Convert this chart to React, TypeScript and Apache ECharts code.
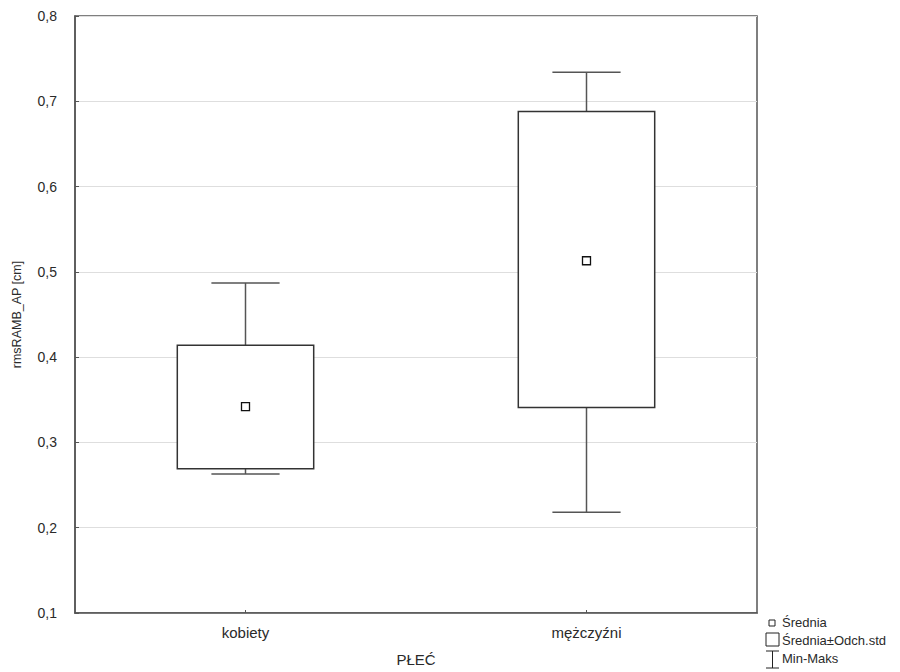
import React, { useEffect, useRef } from "react";
import * as echarts from "echarts";

const categories = ["kobiety", "mężczyźni"];
const minValues = [0.263, 0.218];
const boxLow = [0.269, 0.341];
const boxHigh = [0.414, 0.688];
const maxValues = [0.487, 0.734];
const means = [0.342, 0.513];
const yTicks = { min: 0.1, max: 0.8, interval: 0.1 };
const xAxisName = "PŁEĆ";
const yAxisName = "rmsRAMB_AP [cm]";
const legendLabels = ["Średnia", "Średnia±Odch.std", "Min-Maks"];

const FONT = "'Liberation Sans', Arial, sans-serif";
const TXT = "#2a2a2a";

export default function App() {
  const ref = useRef<HTMLDivElement>(null);
  useEffect(() => {
    if (!ref.current) return;
    const chart = echarts.init(ref.current, null, { renderer: "svg" });
    const data = categories.map((_, i) => [i, minValues[i], boxLow[i], boxHigh[i], maxValues[i], means[i]]);
    chart.setOption({
      animation: false,
      backgroundColor: "#fff",
      textStyle: { fontFamily: FONT },
      grid: {
        left: 75, right: 143, top: 16, bottom: 59,
        outerBoundsMode: "none",
        containLabel: false,
        show: true, borderColor: "#555", borderWidth: 1.5, backgroundColor: "transparent",
      },
      xAxis: {
        type: "category",
        data: categories,
        name: xAxisName,
        nameLocation: "middle",
        nameGap: 39,
        nameTextStyle: { fontSize: 15, color: TXT, fontFamily: FONT },
        axisLine: { show: true, lineStyle: { color: "#555", width: 1.5 } },
        axisTick: { show: true, inside: true, alignWithLabel: true, length: 3, lineStyle: { color: "#555" } },
        axisLabel: { fontSize: 15, color: TXT, margin: 12, fontFamily: FONT },
        splitLine: { show: false },
      },
      yAxis: {
        type: "value",
        min: yTicks.min,
        max: yTicks.max,
        interval: yTicks.interval,
        name: yAxisName,
        nameLocation: "middle",
        nameRotate: 90,
        nameGap: 52,
        nameTextStyle: { fontSize: 12.5, color: TXT, fontFamily: FONT },
        axisLine: { show: true, lineStyle: { color: "#555", width: 1.5 } },
        axisTick: { show: true, inside: true, length: 4, lineStyle: { color: "#555" } },
        axisLabel: {
          fontSize: 14,
          color: TXT,
          margin: 18,
          fontFamily: FONT,
          formatter: (v: number) => v.toFixed(1).replace(".", ","),
        },
        splitLine: { show: true, lineStyle: { color: "#dedede", width: 1 } },
      },
      series: [
        {
          type: "custom",
          data,
          encode: { x: 0, y: [1, 2, 3, 4, 5] },
          renderItem: (params: any, api: any) => {
            const idx = api.value(0);
            const band = api.size([1, 0])[0];
            const pMin = api.coord([idx, api.value(1)]);
            const pLow = api.coord([idx, api.value(2)]);
            const pHigh = api.coord([idx, api.value(3)]);
            const pMax = api.coord([idx, api.value(4)]);
            const pMean = api.coord([idx, api.value(5)]);
            const cx = pMin[0];
            const boxW = band * 0.4;
            const capW = band * 0.2;
            const wStyle = { stroke: "#555", lineWidth: 1.5 };
            return {
              type: "group",
              children: [
                { type: "line", shape: { x1: cx, y1: pMax[1], x2: cx, y2: pHigh[1] }, style: wStyle },
                { type: "line", shape: { x1: cx, y1: pLow[1], x2: cx, y2: pMin[1] }, style: wStyle },
                { type: "line", shape: { x1: cx - capW / 2, y1: pMax[1], x2: cx + capW / 2, y2: pMax[1] }, style: wStyle },
                { type: "line", shape: { x1: cx - capW / 2, y1: pMin[1], x2: cx + capW / 2, y2: pMin[1] }, style: wStyle },
                {
                  type: "rect",
                  shape: { x: cx - boxW / 2, y: pHigh[1], width: boxW, height: pLow[1] - pHigh[1] },
                  style: { fill: "#fff", stroke: "#333", lineWidth: 1.5 },
                },
                {
                  type: "rect",
                  shape: { x: cx - 4, y: pMean[1] - 4, width: 8, height: 8 },
                  style: { fill: "#fff", stroke: "#111", lineWidth: 1.3 },
                },
              ],
            };
          },
        },
      ],
      graphic: [
        { type: "rect", shape: { x: 769, y: 620, width: 6, height: 6 }, style: { fill: "#fff", stroke: "#222", lineWidth: 1 } },
        { type: "text", x: 782, y: 622, style: { text: legendLabels[0], fontSize: 13, fill: TXT, fontFamily: FONT, verticalAlign: "middle" } },
        { type: "rect", shape: { x: 766, y: 633, width: 13, height: 13 }, style: { fill: "#fff", stroke: "#222", lineWidth: 1 } },
        { type: "text", x: 782, y: 640, style: { text: legendLabels[1], fontSize: 13, fill: TXT, fontFamily: FONT, verticalAlign: "middle" } },
        { type: "line", shape: { x1: 766, y1: 651, x2: 779, y2: 651 }, style: { stroke: "#222", lineWidth: 1 } },
        { type: "line", shape: { x1: 772.5, y1: 651, x2: 772.5, y2: 668 }, style: { stroke: "#222", lineWidth: 1 } },
        { type: "line", shape: { x1: 766, y1: 668, x2: 779, y2: 668 }, style: { stroke: "#222", lineWidth: 1 } },
        { type: "text", x: 782, y: 658, style: { text: legendLabels[2], fontSize: 13, fill: TXT, fontFamily: FONT, verticalAlign: "middle" } },
      ],
    });
    return () => chart.dispose();
  }, []);
  return <div ref={ref} style={{ width: 900, height: 672, position: "absolute", left: 0, top: 0 }} />;
}
